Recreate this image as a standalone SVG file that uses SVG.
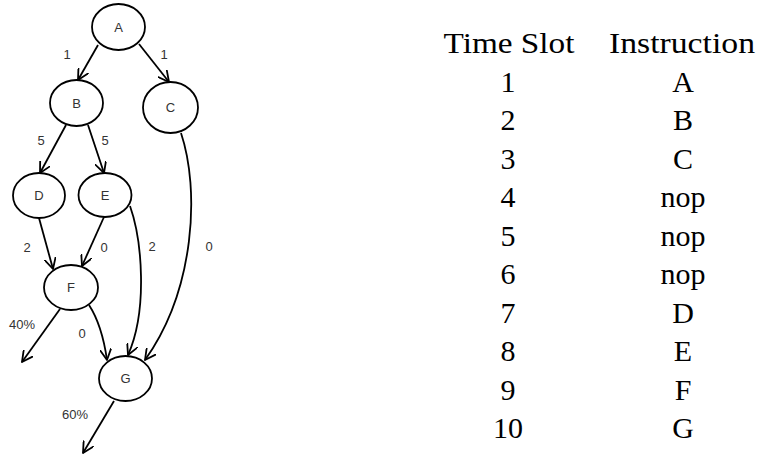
<svg xmlns="http://www.w3.org/2000/svg" width="762" height="455" viewBox="0 0 762 455">
<style>
.node ellipse{fill:#fff;stroke:#000;stroke-width:1.8}
.nl{font-family:"Liberation Sans",Arial,sans-serif;font-size:13px;fill:#333;text-anchor:middle;dominant-baseline:central}
.el{font-family:"Liberation Sans",Arial,sans-serif;font-size:13px;fill:#333;text-anchor:middle;dominant-baseline:central}
.edge{fill:none;stroke:#000;stroke-width:1.8;marker-end:url(#arr)}
.tb{font-family:"Liberation Serif","Times New Roman",serif;font-size:30px;fill:#000;text-anchor:middle}
</style>
<defs>
<marker id="arr" viewBox="0 0 12 12" refX="11" refY="6" markerWidth="12" markerHeight="12" markerUnits="userSpaceOnUse" orient="auto">
<path d="M0.5,0.5 L11,6 L0.5,11.5" fill="none" stroke="#000" stroke-width="1.8" stroke-linejoin="round" stroke-linecap="round"/>
</marker>
</defs>
<rect width="762" height="455" fill="#fff"/>
<g id="connectors">
<path class="edge" d="M98,45 L78,80"/>
<path class="edge" d="M139,44 L169,82"/>
<path class="edge" d="M66,125 L40,173"/>
<path class="edge" d="M88,125 L104,173"/>
<path class="edge" d="M39,218 L53,269"/>
<path class="edge" d="M104,217 L82,266"/>
<path class="edge" d="M130,206 C142,240 148,310 128,355"/>
<path class="edge" d="M181,133 C200,190 195,290 145,360"/>
<path class="edge" d="M89,305 Q102,325 107,360"/>
<path class="edge" d="M60,309 L22,362"/>
<path class="edge" d="M114,401 L83,453"/>
<text class="el" x="67" y="54">1</text>
<text class="el" x="164" y="54">1</text>
<text class="el" x="41" y="140">5</text>
<text class="el" x="105" y="140">5</text>
<text class="el" x="27" y="247">2</text>
<text class="el" x="104" y="247">0</text>
<text class="el" x="152" y="246">2</text>
<text class="el" x="209" y="246">0</text>
<text class="el" x="22" y="324">40%</text>
<text class="el" x="82" y="333">0</text>
<text class="el" x="75" y="414">60%</text>
</g>
<g id="A" class="node"><ellipse cx="118.5" cy="27" rx="26.5" ry="23"/><text class="nl" x="118.5" y="27">A</text></g>
<g id="B" class="node"><ellipse cx="76.5" cy="103" rx="26.5" ry="23"/><text class="nl" x="76.5" y="103">B</text></g>
<g id="C" class="node"><ellipse cx="170.5" cy="107.5" rx="27.5" ry="25.5"/><text class="nl" x="170.5" y="107.5">C</text></g>
<g id="D" class="node"><ellipse cx="39" cy="195.5" rx="26" ry="22.5"/><text class="nl" x="39" y="195.5">D</text></g>
<g id="E" class="node"><ellipse cx="105" cy="195" rx="26.5" ry="22"/><text class="nl" x="105" y="195">E</text></g>
<g id="F" class="node"><ellipse cx="71" cy="287.5" rx="27" ry="22.5"/><text class="nl" x="71" y="287.5">F</text></g>
<g id="G" class="node"><ellipse cx="125.5" cy="378.5" rx="26.5" ry="22.5"/><text class="nl" x="125.5" y="378.5">G</text></g>
<g id="table">
<text class="tb" x="509" y="53" textLength="131" lengthAdjust="spacingAndGlyphs">Time Slot</text>
<text class="tb" x="682" y="53" textLength="146" lengthAdjust="spacingAndGlyphs">Instruction</text>
<text class="tb" x="508" y="91.5">1</text><text class="tb" x="683" y="91.5">A</text>
<text class="tb" x="508" y="130">2</text><text class="tb" x="683" y="130">B</text>
<text class="tb" x="508" y="168.5">3</text><text class="tb" x="683" y="168.5">C</text>
<text class="tb" x="508" y="207">4</text><text class="tb" x="683" y="207">nop</text>
<text class="tb" x="508" y="245.5">5</text><text class="tb" x="683" y="245.5">nop</text>
<text class="tb" x="508" y="284">6</text><text class="tb" x="683" y="284">nop</text>
<text class="tb" x="508" y="322.5">7</text><text class="tb" x="683" y="322.5">D</text>
<text class="tb" x="508" y="361">8</text><text class="tb" x="683" y="361">E</text>
<text class="tb" x="508" y="399.5">9</text><text class="tb" x="683" y="399.5">F</text>
<text class="tb" x="508" y="438">10</text><text class="tb" x="683" y="438">G</text>
</g>
</svg>
